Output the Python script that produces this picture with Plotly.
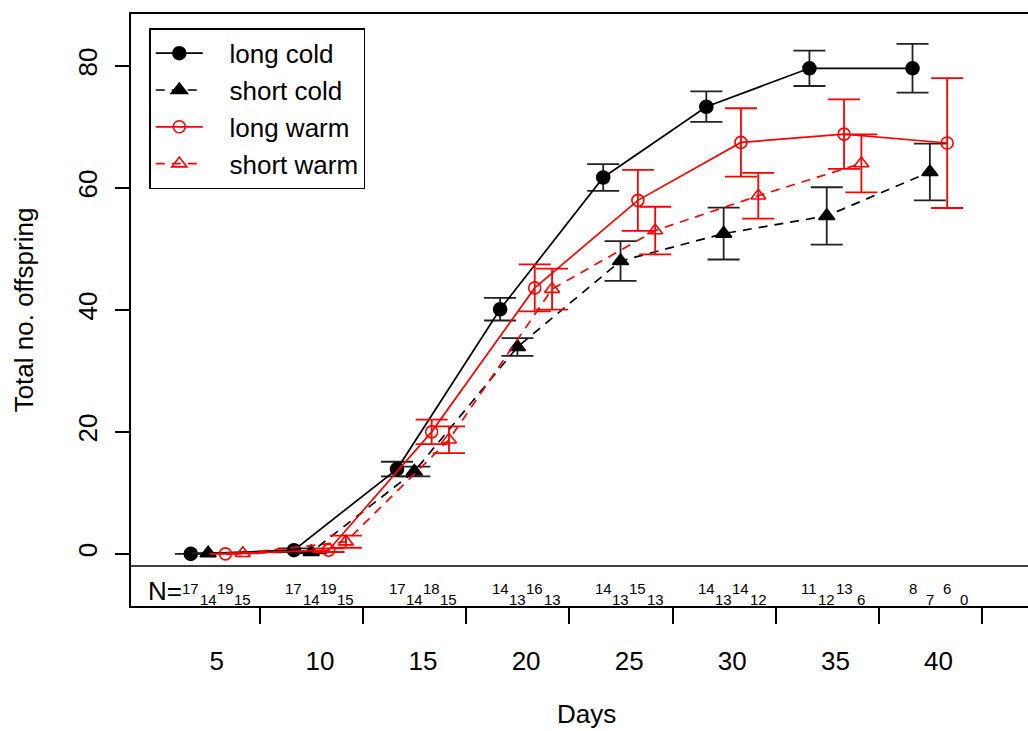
import plotly.graph_objects as go

# ---------------- data ----------------
days = [5, 10, 15, 20, 25, 30, 35, 40]
day_labels = ["5", "10", "15", "20", "25", "30", "35", "40"]
y_ticks = [0, 20, 40, 60, 80]

long_cold = [0.0, 0.6, 13.9, 40.1, 61.7, 73.3, 79.6, 79.6]
long_cold_se = [None, 0.3, 1.2, 1.85, 2.2, 2.5, 2.9, 4.0]
short_cold = [0.1, 0.3, 13.5, 33.9, 48.0, 52.5, 55.4, 62.6]
short_cold_se = [None, 0.2, 0.8, 1.45, 3.25, 4.25, 4.7, 4.65]
long_warm = [0.0, 0.6, 20.0, 43.6, 57.95, 67.45, 68.8, 67.35]
long_warm_se = [None, 0.3, 2.0, 3.85, 5.0, 5.6, 5.7, 10.65]
short_warm = [0.1, 2.0, 18.7, 43.4, 53.0, 58.7, 64.0, None]
short_warm_se = [None, 1.0, 2.2, 3.35, 3.9, 3.75, 4.75, None]

n_long_cold = [17, 17, 17, 14, 14, 14, 11, 8]
n_short_cold = [14, 14, 14, 13, 13, 13, 12, 7]
n_long_warm = [19, 19, 18, 16, 15, 14, 13, 6]
n_short_warm = [15, 15, 15, 13, 13, 12, 6, 0]

# ---------------- styles ----------------
FONT = "Liberation Sans, Arial, Helvetica, sans-serif"
PAD = "\u00a0\u00a0\u00a0"
series = [
    dict(name="long cold", y=long_cold, se=long_cold_se, n=n_long_cold, off=-1.26,
         color="black", dash="solid", symbol="circle", size=13, up=True),
    dict(name="short cold", y=short_cold, se=short_cold_se, n=n_short_cold, off=-0.42,
         color="black", dash="9px,7px", symbol="triangle-up", size=14, up=False),
    dict(name="long warm", y=long_warm, se=long_warm_se, n=n_long_warm, off=0.42,
         color="red", dash="solid", symbol="circle-open", size=12, up=True),
    dict(name="short warm", y=short_warm, se=short_warm_se, n=n_short_warm, off=1.26,
         color="red", dash="9px,7px", symbol="triangle-up-open", size=13, up=False),
]

X0, X1 = 0.84, 44.34
Y0, Y1 = -8.55, 88.5

fig = go.Figure()
annotations = []
for s in series:
    xs = [d + s["off"] for d in days]
    fig.add_trace(go.Scatter(
        x=xs, y=s["y"], name=PAD + s["name"], mode="lines+markers",
        line=dict(color=s["color"], width=1.7, dash=s["dash"]),
        marker=dict(symbol=s["symbol"], size=s["size"], color=s["color"],
                    line=dict(color=s["color"], width=1.6)),
        error_y=dict(type="data", array=s["se"], visible=True,
                     color="#222222" if s["color"] == "black" else "red",
                     thickness=1.8, width=16),
        connectgaps=False,
    ))
    for x, n in zip(xs, s["n"]):
        annotations.append(dict(
            x=x, y=-5.6 if s["up"] else -7.5, xref="x", yref="y",
            text=str(n), showarrow=False, xanchor="center", yanchor="middle",
            font=dict(family=FONT, size=15, color="black")))

# invisible carrier trace so the label axis (x2) is drawn
fig.add_trace(go.Scatter(x=days, y=[None] * len(days), xaxis="x2", yaxis="y",
                         showlegend=False, hoverinfo="skip", mode="markers"))

annotations.append(dict(x=3.41, y=-6.1, xref="x", yref="y", text="N=",
                        showarrow=False, xanchor="right", yanchor="middle",
                        font=dict(family=FONT, size=26, color="black")))
annotations.append(dict(x=(586 - 131) / 897, y=-0.182, xref="paper", yref="paper",
                        text="Days", showarrow=False, xanchor="center", yanchor="middle",
                        font=dict(family=FONT, size=26, color="black")))

fig.update_layout(
    width=1028, height=731,
    margin=dict(l=131, r=0, t=14, b=125),
    paper_bgcolor="white", plot_bgcolor="white",
    font=dict(family=FONT, size=26, color="black"),
    showlegend=True,
    legend=dict(x=(149.3 - 131) / 897, y=(606 - 28.3) / 592, xanchor="left", yanchor="top",
                bordercolor="black", borderwidth=1.5, bgcolor="white",
                font=dict(family=FONT, size=26, color="black"),
                itemwidth=47, tracegroupgap=0),
    xaxis=dict(range=[X0, X1], showgrid=False, zeroline=False,
               showline=True, linecolor="black", linewidth=1.5, mirror=True,
               ticks="outside", ticklen=16, tickwidth=1.5, tickcolor="black",
               tickvals=[d + 2.1 for d in days], showticklabels=False),
    xaxis2=dict(range=[X0, X1], overlaying="x", side="bottom", showgrid=False,
                zeroline=False, showline=False, ticks="",
                tickvals=days, ticktext=day_labels, ticklabelstandoff=37,
                tickfont=dict(family=FONT, size=26, color="black")),
    yaxis=dict(range=[Y0, Y1], showgrid=False, zeroline=False,
               showline=True, linecolor="black", linewidth=1.5,
               ticks="outside", ticklen=14, tickwidth=1.5, tickcolor="black",
               tickvals=y_ticks, ticktext=[str(v) for v in y_ticks],
               tickangle=-90, ticklabelstandoff=8,
               tickfont=dict(family=FONT, size=26, color="black"),
               title=dict(text="Total no. offspring", standoff=32,
                          font=dict(family=FONT, size=26, color="black"))),
    shapes=[dict(type="line", xref="paper", yref="y", x0=0, x1=1, y0=-2, y1=-2,
                 line=dict(color="black", width=1.5))],
    annotations=annotations,
)

fig.write_html("out.html")
